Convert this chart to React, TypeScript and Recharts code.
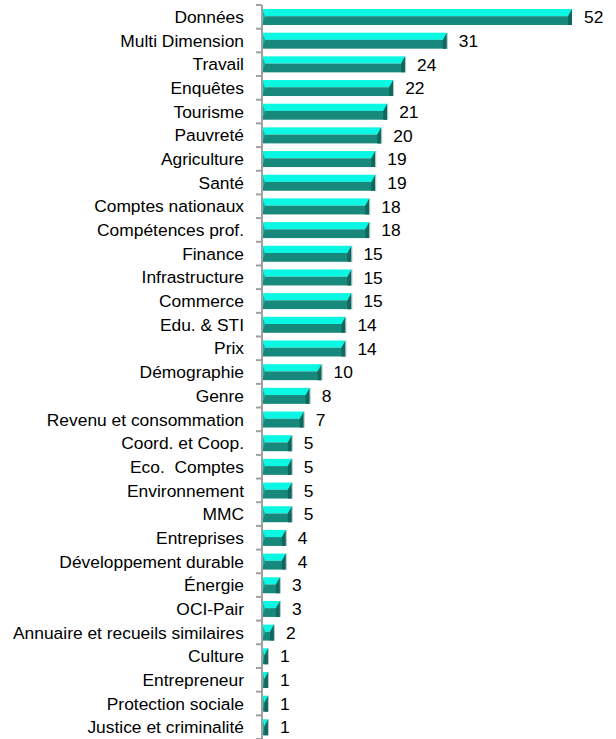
import React from "react";
import { BarChart, Bar, XAxis, YAxis, LabelList } from "recharts";

const categories = [
  "Données", "Multi Dimension", "Travail", "Enquêtes", "Tourisme", "Pauvreté",
  "Agriculture", "Santé", "Comptes nationaux", "Compétences prof.", "Finance",
  "Infrastructure", "Commerce", "Edu. & STI", "Prix", "Démographie", "Genre",
  "Revenu et consommation", "Coord. et Coop.", "Eco.  Comptes", "Environnement",
  "MMC", "Entreprises", "Développement durable", "Énergie", "OCI-Pair",
  "Annuaire et recueils similaires", "Culture", "Entrepreneur",
  "Protection sociale", "Justice et criminalité",
];
const values = [52, 31, 24, 22, 21, 20, 19, 19, 18, 18, 15, 15, 15, 14, 14, 10, 8, 7, 5, 5, 5, 5, 4, 4, 3, 3, 2, 1, 1, 1, 1];

const data = categories.map((name, i) => ({ name, value: values[i] }));

const FONT = "'Liberation Sans', Arial, sans-serif";
const CHART_W = 616;
const CHART_H = 739;
const MARGIN = { top: 5, right: 44, bottom: 0, left: 0 };
const AXIS_W = 262;
const TICK_MARGIN = 18;
const BAND = (CHART_H - MARGIN.top - MARGIN.bottom) / categories.length;

const Bar3D = (props: any) => {
  const { x, y, width, height } = props;
  if (!width || width <= 0) return null;
  const mid = y + height * 0.45;
  const d = Math.min(4, width * 0.6);
  return (
    <g>
      <rect x={x} y={y} width={width} height={mid - y} fill="#0AF7E3" />
      <rect x={x} y={mid} width={width} height={y + height - mid} fill="#17897C" />
      <polygon points={`${x},${y} ${x + d * 0.8},${mid} ${x},${y + height}`} fill="#12B7A7" />
      <polygon
        points={`${x + width - d},${mid} ${x + width},${y} ${x + width},${y + height} ${x + width - d},${y + height}`}
        fill="#10675E"
      />
      <line x1={x + width + 0.5} y1={y} x2={x + width + 0.5} y2={y + height} stroke="#B8C4C2" strokeWidth={1} />
    </g>
  );
};

const CatTick = (props: any) => {
  const { x, y, payload, index } = props;
  const ax = x + TICK_MARGIN;
  const top = y - BAND / 2;
  const bottom = y + BAND / 2;
  return (
    <g>
      <line x1={ax - 6} y1={top} x2={ax} y2={top} stroke="#A0A0A0" strokeWidth={2} />
      {index === categories.length - 1 && (
        <line x1={ax - 6} y1={bottom} x2={ax} y2={bottom} stroke="#A0A0A0" strokeWidth={2} />
      )}
      <text x={x} y={y} dy="0.355em" textAnchor="end" fill="#000" fontSize={17.4} fontFamily={FONT} style={{ whiteSpace: "pre" }}>
        {payload.value}
      </text>
    </g>
  );
};

export default function App() {
  return (
    <div style={{ position: "absolute", left: 0, top: 0, background: "#fff" }}>
      <BarChart
        width={CHART_W}
        height={CHART_H}
        data={data}
        layout="vertical"
        margin={MARGIN}
        barSize={16}
      >
        <XAxis type="number" domain={[0, 52]} hide allowDataOverflow />
        <YAxis
          type="category"
          dataKey="name"
          width={AXIS_W}
          axisLine={{ stroke: "#A0A0A0", strokeWidth: 2 }}
          tickLine={false}
          tickSize={0}
          tickMargin={TICK_MARGIN}
          interval={0}
          tick={<CatTick />}
        />
        <Bar dataKey="value" shape={<Bar3D />} isAnimationActive={false}>
          <LabelList dataKey="value" position="right" offset={12} fill="#000" fontSize={17.4} fontFamily={FONT} />
        </Bar>
      </BarChart>
    </div>
  );
}
